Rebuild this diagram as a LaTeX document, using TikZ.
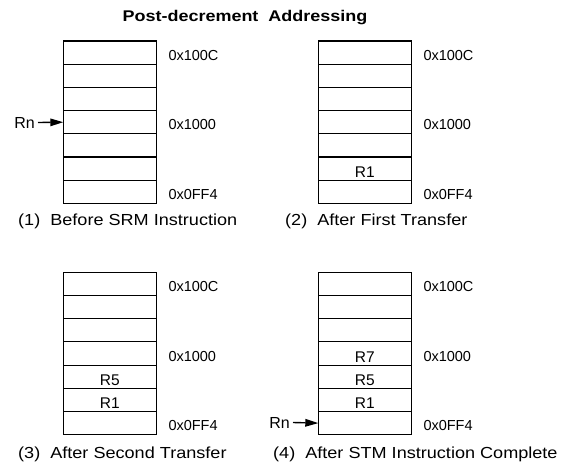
\documentclass[tikz,border=0pt]{standalone}
\usepackage{fontspec}
\setmainfont{Liberation Sans}
\usetikzlibrary{arrows.meta}
\tikzset{
  cell/.style={draw, line width=1.1pt, minimum width=93pt, minimum height=23.2pt, inner sep=0pt, outer sep=0pt, anchor=north west},
  addr/.style={anchor=base west, inner sep=0pt, font=\fontsize{14.5}{16}\selectfont},
  content/.style={anchor=base, inner sep=0pt, font=\fontsize{15.5}{17}\selectfont},
  caption/.style={anchor=base west, inner sep=0pt, font=\fontsize{16}{18}\selectfont},
  ptr/.style={-{Triangle[length=13pt,width=7.5pt]}, line width=1.4pt},
  rnlabel/.style={anchor=base east, inner sep=0pt, font=\fontsize{16}{18}\selectfont}
}
\newcommand{\capt}[1]{\scalebox{1.13}[1]{#1}}
\begin{document}
\begin{tikzpicture}[x=1pt,y=-1pt]
\useasboundingbox (0,0) rectangle (566,467);
% title
\node[anchor=base, inner sep=0pt, font=\bfseries\fontsize{15.5}{17}\selectfont] (title) at (245,21) {\scalebox{1.16}[1]{Post-decrement\ \ Addressing}};
% panels
\foreach \p/\L/\T in {1/63.3/41, 2/318.3/41, 3/63.3/272.3, 4/318.3/272.3}{
  \foreach \r in {1,...,7}{
    \node[cell] (p\p r\r) at (\L,{\T+(\r-1)*23.2}) {};
  }
  \node[addr] (p\p a1) at ([xshift=12pt,yshift=4pt]p\p r1.south east) {0x100C};
  \node[addr] (p\p a4) at ([xshift=12pt,yshift=4pt]p\p r4.south east) {0x1000};
  \node[addr] (p\p a7) at ([xshift=12pt,yshift=4pt]p\p r7.south east) {0x0FF4};
}
% contents
\node[content] (c26) at ([yshift=3pt]p2r6.south) {R1};
\node[content] (c35) at ([yshift=3pt]p3r5.south) {R5};
\node[content] (c36) at ([yshift=3pt]p3r6.south) {R1};
\node[content] (c44) at ([yshift=3pt]p4r4.south) {R7};
\node[content] (c45) at ([yshift=3pt]p4r5.south) {R5};
\node[content] (c46) at ([yshift=3pt]p4r6.south) {R1};
% pointers
\node[rnlabel] (rn1) at (35,128) {Rn};
\draw[ptr] ([xshift=3pt,yshift=5.5pt]rn1.base east) -- (p1r4.west);
\node[rnlabel] (rn4) at (290,428) {Rn};
\draw[ptr] ([xshift=3pt,yshift=5.5pt]rn4.base east) -- (p4r7.west);
% captions
\node[caption] (cap1) at (18,225) {\capt{(1)\ \ Before SRM Instruction}};
\node[caption] (cap2) at (285,225) {\capt{(2)\ \ After First Transfer}};
\node[caption] (cap3) at (18,458) {\capt{(3)\ \ After Second Transfer}};
\node[caption] (cap4) at (273,458) {\capt{(4)\ \ After STM Instruction Complete}};
\end{tikzpicture}
\end{document}
